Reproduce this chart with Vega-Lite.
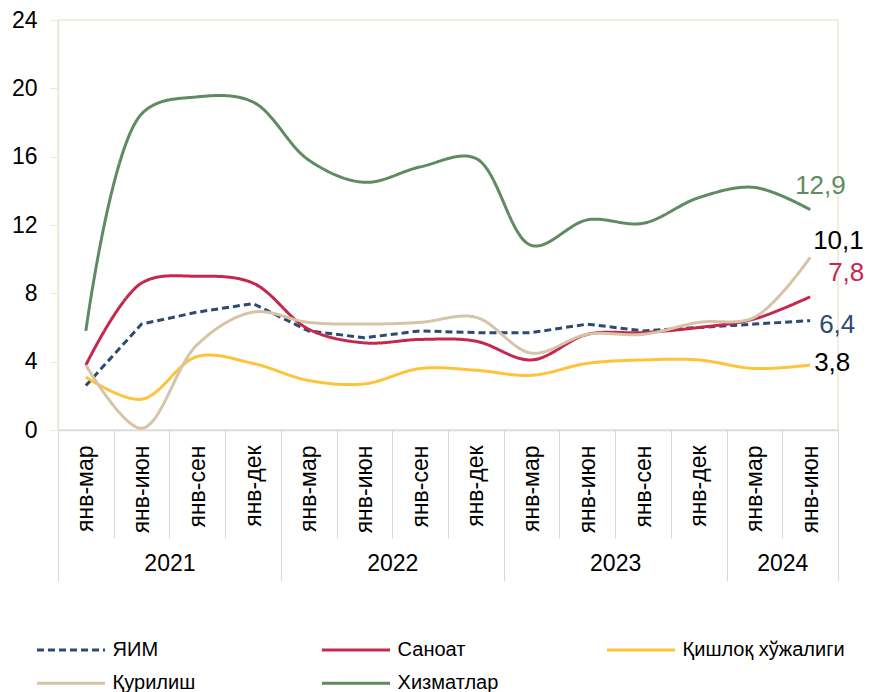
{
  "$schema": "https://vega.github.io/schema/vega-lite/v6.json",
  "width": 780,
  "height": 410,
  "autosize": {"type": "none"},
  "padding": {"left": 58, "top": 20, "right": 31, "bottom": 262},
  "config": {
    "font": "Liberation Sans",
    "view": {"stroke": "#ECE8D8", "strokeWidth": 1.5},
    "locale": {"number": {"decimal": ",", "thousands": " ", "grouping": [3], "currency": ["", ""]}},
    "axis": {"labelColor": "#000000", "grid": false, "title": null, "labelFont": "Liberation Sans"},
    "legend": {"labelFont": "Liberation Sans", "labelColor": "#000000"}
  },
  "data": {
    "values": [
      {"period": "2021 янв-мар", "series": "ЯИМ", "value": 2.6},
      {"period": "2021 янв-июн", "series": "ЯИМ", "value": 6.2},
      {"period": "2021 янв-сен", "series": "ЯИМ", "value": 6.9},
      {"period": "2021 янв-дек", "series": "ЯИМ", "value": 7.4},
      {"period": "2022 янв-мар", "series": "ЯИМ", "value": 5.8},
      {"period": "2022 янв-июн", "series": "ЯИМ", "value": 5.4},
      {"period": "2022 янв-сен", "series": "ЯИМ", "value": 5.8},
      {"period": "2022 янв-дек", "series": "ЯИМ", "value": 5.7},
      {"period": "2023 янв-мар", "series": "ЯИМ", "value": 5.7},
      {"period": "2023 янв-июн", "series": "ЯИМ", "value": 6.2},
      {"period": "2023 янв-сен", "series": "ЯИМ", "value": 5.8},
      {"period": "2023 янв-дек", "series": "ЯИМ", "value": 6.0},
      {"period": "2024 янв-мар", "series": "ЯИМ", "value": 6.2},
      {"period": "2024 янв-июн", "series": "ЯИМ", "value": 6.4},
      {"period": "2021 янв-мар", "series": "Саноат", "value": 3.8},
      {"period": "2021 янв-июн", "series": "Саноат", "value": 8.6},
      {"period": "2021 янв-сен", "series": "Саноат", "value": 9.0},
      {"period": "2021 янв-дек", "series": "Саноат", "value": 8.6},
      {"period": "2022 янв-мар", "series": "Саноат", "value": 5.9},
      {"period": "2022 янв-июн", "series": "Саноат", "value": 5.1},
      {"period": "2022 янв-сен", "series": "Саноат", "value": 5.3},
      {"period": "2022 янв-дек", "series": "Саноат", "value": 5.2},
      {"period": "2023 янв-мар", "series": "Саноат", "value": 4.1},
      {"period": "2023 янв-июн", "series": "Саноат", "value": 5.6},
      {"period": "2023 янв-сен", "series": "Саноат", "value": 5.7},
      {"period": "2023 янв-дек", "series": "Саноат", "value": 6.0},
      {"period": "2024 янв-мар", "series": "Саноат", "value": 6.5},
      {"period": "2024 янв-июн", "series": "Саноат", "value": 7.8},
      {"period": "2021 янв-мар", "series": "Қишлоқ хўжалиги", "value": 3.1},
      {"period": "2021 янв-июн", "series": "Қишлоқ хўжалиги", "value": 1.8},
      {"period": "2021 янв-сен", "series": "Қишлоқ хўжалиги", "value": 4.3},
      {"period": "2021 янв-дек", "series": "Қишлоқ хўжалиги", "value": 3.9},
      {"period": "2022 янв-мар", "series": "Қишлоқ хўжалиги", "value": 2.9},
      {"period": "2022 янв-июн", "series": "Қишлоқ хўжалиги", "value": 2.7},
      {"period": "2022 янв-сен", "series": "Қишлоқ хўжалиги", "value": 3.6},
      {"period": "2022 янв-дек", "series": "Қишлоқ хўжалиги", "value": 3.5},
      {"period": "2023 янв-мар", "series": "Қишлоқ хўжалиги", "value": 3.2},
      {"period": "2023 янв-июн", "series": "Қишлоқ хўжалиги", "value": 3.9},
      {"period": "2023 янв-сен", "series": "Қишлоқ хўжалиги", "value": 4.1},
      {"period": "2023 янв-дек", "series": "Қишлоқ хўжалиги", "value": 4.1},
      {"period": "2024 янв-мар", "series": "Қишлоқ хўжалиги", "value": 3.6},
      {"period": "2024 янв-июн", "series": "Қишлоқ хўжалиги", "value": 3.8},
      {"period": "2021 янв-мар", "series": "Қурилиш", "value": 3.8},
      {"period": "2021 янв-июн", "series": "Қурилиш", "value": 0.1},
      {"period": "2021 янв-сен", "series": "Қурилиш", "value": 5.0},
      {"period": "2021 янв-дек", "series": "Қурилиш", "value": 6.9},
      {"period": "2022 янв-мар", "series": "Қурилиш", "value": 6.3},
      {"period": "2022 янв-июн", "series": "Қурилиш", "value": 6.2},
      {"period": "2022 янв-сен", "series": "Қурилиш", "value": 6.3},
      {"period": "2022 янв-дек", "series": "Қурилиш", "value": 6.6},
      {"period": "2023 янв-мар", "series": "Қурилиш", "value": 4.5},
      {"period": "2023 янв-июн", "series": "Қурилиш", "value": 5.6},
      {"period": "2023 янв-сен", "series": "Қурилиш", "value": 5.6},
      {"period": "2023 янв-дек", "series": "Қурилиш", "value": 6.3},
      {"period": "2024 янв-мар", "series": "Қурилиш", "value": 6.6},
      {"period": "2024 янв-июн", "series": "Қурилиш", "value": 10.1},
      {"period": "2021 янв-мар", "series": "Хизматлар", "value": 5.8},
      {"period": "2021 янв-июн", "series": "Хизматлар", "value": 18.5},
      {"period": "2021 янв-сен", "series": "Хизматлар", "value": 19.5},
      {"period": "2021 янв-дек", "series": "Хизматлар", "value": 19.2},
      {"period": "2022 янв-мар", "series": "Хизматлар", "value": 15.8},
      {"period": "2022 янв-июн", "series": "Хизматлар", "value": 14.5},
      {"period": "2022 янв-сен", "series": "Хизматлар", "value": 15.4},
      {"period": "2022 янв-дек", "series": "Хизматлар", "value": 15.9},
      {"period": "2023 янв-мар", "series": "Хизматлар", "value": 10.8},
      {"period": "2023 янв-июн", "series": "Хизматлар", "value": 12.3},
      {"period": "2023 янв-сен", "series": "Хизматлар", "value": 12.1},
      {"period": "2023 янв-дек", "series": "Хизматлар", "value": 13.6},
      {"period": "2024 янв-мар", "series": "Хизматлар", "value": 14.2},
      {"period": "2024 янв-июн", "series": "Хизматлар", "value": 12.9}
    ]
  },
  "resolve": {"axis": {"x": "independent"}},
  "layer": [
    {
      "transform": [{"filter": "datum.series === 'ЯИМ'"}],
      "mark": {"type": "line", "strokeWidth": 3, "interpolate": "linear"},
      "encoding": {
        "x": {
          "field": "period", "type": "nominal",
          "scale": {"type": "band", "paddingInner": 0, "paddingOuter": 0, "domain": ["2021 янв-мар","2021 янв-июн","2021 янв-сен","2021 янв-дек","2022 янв-мар","2022 янв-июн","2022 янв-сен","2022 янв-дек","2023 янв-мар","2023 янв-июн","2023 янв-сен","2023 янв-дек","2024 янв-мар","2024 янв-июн"]},
          "axis": {
            "orient": "bottom", "tickBand": "extent", "tickSize": 108, "tickColor": "#D9D9D9", "tickWidth": 1,
            "domainColor": "#D9D9D9", "domainWidth": 1.5,
            "labelAngle": -90, "labelPadding": -93, "labelFontSize": 23,
            "labelExpr": "split(datum.label, ' ')[1]", "labelOverlap": false, "labelBound": false
          }
        },
        "y": {
          "field": "value", "type": "quantitative",
          "scale": {"domain": [0, 24], "nice": false, "zero": true},
          "axis": {"values": [0, 4, 8, 12, 16, 20, 24], "tickSize": 8, "tickColor": "#ECE8D8", "domainColor": "#ECE8D8", "domainWidth": 1.5, "labelFontSize": 23, "labelPadding": 13}
        },
        "color": {
          "field": "series", "type": "nominal",
          "scale": {"domain": ["ЯИМ", "Саноат", "Қишлоқ хўжалиги", "Қурилиш", "Хизматлар"], "range": ["#2C4A73", "#C5284F", "#FFC33A", "#D6C4A6", "#5E8B62"]},
          "legend": {"title": null, "orient": "none", "legendX": 0, "legendY": 617, "direction": "horizontal", "columns": 3, "symbolType": "M-3,0H3", "symbolSize": 514, "symbolStrokeWidth": 3, "labelFontSize": 20, "labelOffset": 28.6, "columnPadding": 40, "rowPadding": 10.3, "gridAlign": "all", "labelLimit": 300}
        },
        "strokeDash": {
          "field": "series", "type": "nominal",
          "scale": {"domain": ["ЯИМ", "Саноат", "Қишлоқ хўжалиги", "Қурилиш", "Хизматлар"], "range": [[7, 4], [1, 0], [1, 0], [1, 0], [1, 0]]},
          "legend": {"title": null, "orient": "none", "legendX": 0, "legendY": 617, "direction": "horizontal", "columns": 3, "symbolType": "M-3,0H3", "symbolSize": 514, "symbolStrokeWidth": 3, "labelFontSize": 20, "labelOffset": 28.6, "columnPadding": 40, "rowPadding": 10.3, "gridAlign": "all", "labelLimit": 300}
        }
      }
    },
    {
      "transform": [{"filter": "datum.series !== 'ЯИМ'"}],
      "mark": {"type": "line", "strokeWidth": 3, "interpolate": "catmull-rom"},
      "encoding": {
        "x": {
          "field": "period", "type": "nominal",
          "scale": {"type": "band", "paddingInner": 0, "paddingOuter": 0, "domain": ["2021 янв-мар","2021 янв-июн","2021 янв-сен","2021 янв-дек","2022 янв-мар","2022 янв-июн","2022 янв-сен","2022 янв-дек","2023 янв-мар","2023 янв-июн","2023 янв-сен","2023 янв-дек","2024 янв-мар","2024 янв-июн"]},
          "axis": null
        },
        "y": {"field": "value", "type": "quantitative"},
        "color": {"field": "series", "type": "nominal"},
        "strokeDash": {"field": "series", "type": "nominal"}
      }
    },
    {
      "transform": [{"filter": "datum.period === '2024 янв-июн'"}],
      "mark": {
        "type": "text", "align": "left", "baseline": "middle", "fontSize": 26, "font": "Liberation Sans",
        "dx": {"expr": "datum.series === 'Хизматлар' ? -15 : datum.series === 'Қурилиш' ? 3 : datum.series === 'Саноат' ? 18 : datum.series === 'ЯИМ' ? 9 : 4"},
        "dy": {"expr": "datum.series === 'Хизматлар' ? -24 : datum.series === 'Қурилиш' ? -16 : datum.series === 'Саноат' ? -24 : datum.series === 'ЯИМ' ? 4 : -2"},
        "fill": {"expr": "datum.series === 'Хизматлар' ? '#5E8B62' : datum.series === 'Саноат' ? '#C5284F' : datum.series === 'ЯИМ' ? '#2C4A73' : '#000000'"}
      },
      "encoding": {
        "x": {
          "field": "period", "type": "nominal",
          "scale": {"type": "band", "paddingInner": 0, "paddingOuter": 0, "domain": ["2021 янв-мар","2021 янв-июн","2021 янв-сен","2021 янв-дек","2022 янв-мар","2022 янв-июн","2022 янв-сен","2022 янв-дек","2023 янв-мар","2023 янв-июн","2023 янв-сен","2023 янв-дек","2024 янв-мар","2024 янв-июн"]},
          "axis": {
            "orient": "bottom", "tickBand": "extent",
            "values": ["2021 янв-мар", "2021 янв-июн", "2021 янв-дек", "2022 янв-июн", "2022 янв-дек", "2023 янв-июн", "2023 янв-дек", "2024 янв-мар", "2024 янв-июн"],
            "tickSize": 151, "tickWidth": 1,
            "tickColor": {"condition": {"test": "indexof(['2021 янв-мар', '2021 янв-июн', '2022 янв-июн', '2023 янв-июн', '2024 янв-мар'], datum.value) >= 0", "value": "transparent"}, "value": "#D9D9D9"},
            "domain": false, "labelAngle": 0, "labelFontSize": 23, "labelPadding": -29, "labelOffset": 27.857,
            "labelExpr": "datum.value === '2021 янв-июн' ? '2021' : datum.value === '2022 янв-июн' ? '2022' : datum.value === '2023 янв-июн' ? '2023' : datum.value === '2024 янв-мар' ? '2024' : ''",
            "labelOverlap": false, "labelBound": false
          }
        },
        "y": {"field": "value", "type": "quantitative"},
        "text": {"field": "value", "type": "quantitative", "format": ".1f"}
      }
    }
  ]
}
